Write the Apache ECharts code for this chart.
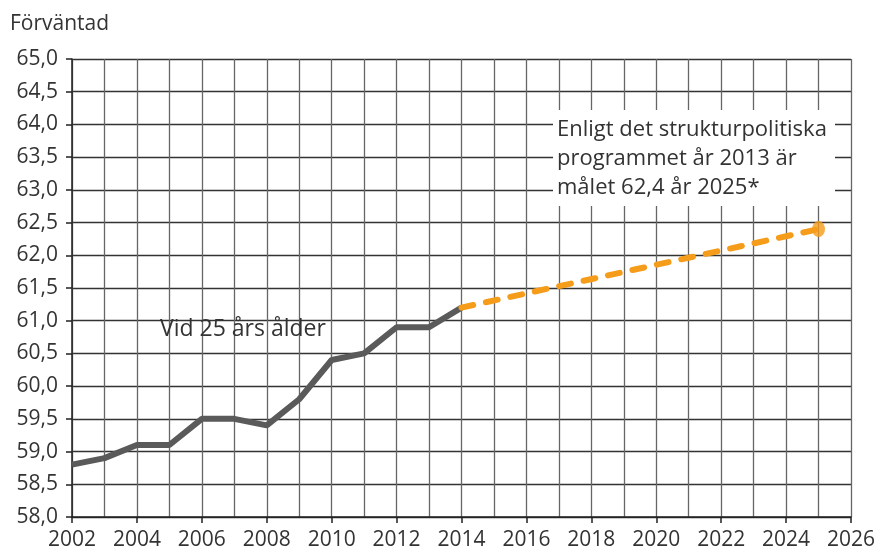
<!DOCTYPE html>
<html><head><meta charset="utf-8">
<script src="https://cdn.jsdelivr.net/npm/echarts@6/dist/echarts.min.js"></script>
<style>html,body{margin:0;padding:0;background:#fff}#c{width:882px;height:551px}</style>
</head><body><div id="c"></div>
<script>
const years = [2002,2003,2004,2005,2006,2007,2008,2009,2010,2011,2012,2013,2014];
const values = [58.8,58.9,59.1,59.1,59.5,59.5,59.4,59.8,60.4,60.5,60.9,60.9,61.2];
const targetYears = [2014,2025];
const targetValues = [61.2,62.4];
const yTitle = 'Förväntad';
const seriesLabel = 'Vid 25 års ålder';
const noteText = 'Enligt det strukturpolitiska\nprogrammet år 2013 är\nmålet 62,4 år 2025*';

const font = '"Open Sans", "Noto Sans", sans-serif';
const chart = echarts.init(document.getElementById('c'));
chart.setOption({
  animation:false,
  grid:{left:72, right:31, top:59, bottom:34, containLabel:false},
  xAxis:{type:'value', min:2002, max:2026, interval:2,
    axisLine:{show:true, lineStyle:{color:'#222', width:1.5}},
    axisTick:{show:true, length:6, lineStyle:{color:'#222', width:1.5}},
    minorTick:{show:false, splitNumber:2},
    splitLine:{show:true, lineStyle:{color:'#666', width:1.3}},
    minorSplitLine:{show:true, lineStyle:{color:'#666', width:1.3}},
    axisLabel:{formatter:v=>String(v), color:'#333', fontSize:21, fontFamily:font, margin:13}
  },
  yAxis:{type:'value', min:58, max:65, interval:0.5,
    axisLine:{show:true, lineStyle:{color:'#222', width:1.5}},
    axisTick:{show:true, length:6, lineStyle:{color:'#222', width:1.5}},
    splitLine:{show:true, lineStyle:{color:'#333', width:1.3}},
    axisLabel:{formatter:v=>v.toFixed(1).replace('.',','), color:'#333', fontSize:21, fontFamily:font, margin:14}
  },
  graphic:[
    {type:'text', left:10, top:14, style:{text:yTitle, fill:'#333', fontSize:21, fontFamily:font}},
    {type:'text', left:160, top:318, z:10, style:{text:seriesLabel, fill:'#333', fontSize:23, fontFamily:font}},
    {type:'rect', shape:{x:553, y:110, width:282, height:96}, z:5, style:{fill:'#fff'}},
    {type:'text', left:557, top:115, z:10, style:{text:noteText, fill:'#333', fontSize:22, fontFamily:font, lineHeight:29}}
  ],
  series:[
    {type:'line', data:years.map((y,i)=>[y,values[i]]), showSymbol:false, symbol:'none',
     lineStyle:{color:'#5a5a5a', width:6}, z:3},
    {type:'line', data:targetYears.map((y,i)=>[y,targetValues[i]]), symbol:'none',
     lineStyle:{color:'#f59c1a', width:6, type:[12,13], cap:'round'}, z:3},
    {type:'scatter', data:[[targetYears[1], targetValues[1]]], symbol:'circle', symbolSize:[13,16],
     itemStyle:{color:'#f59c1a'}, z:4}
  ]
});
</script></body></html>
